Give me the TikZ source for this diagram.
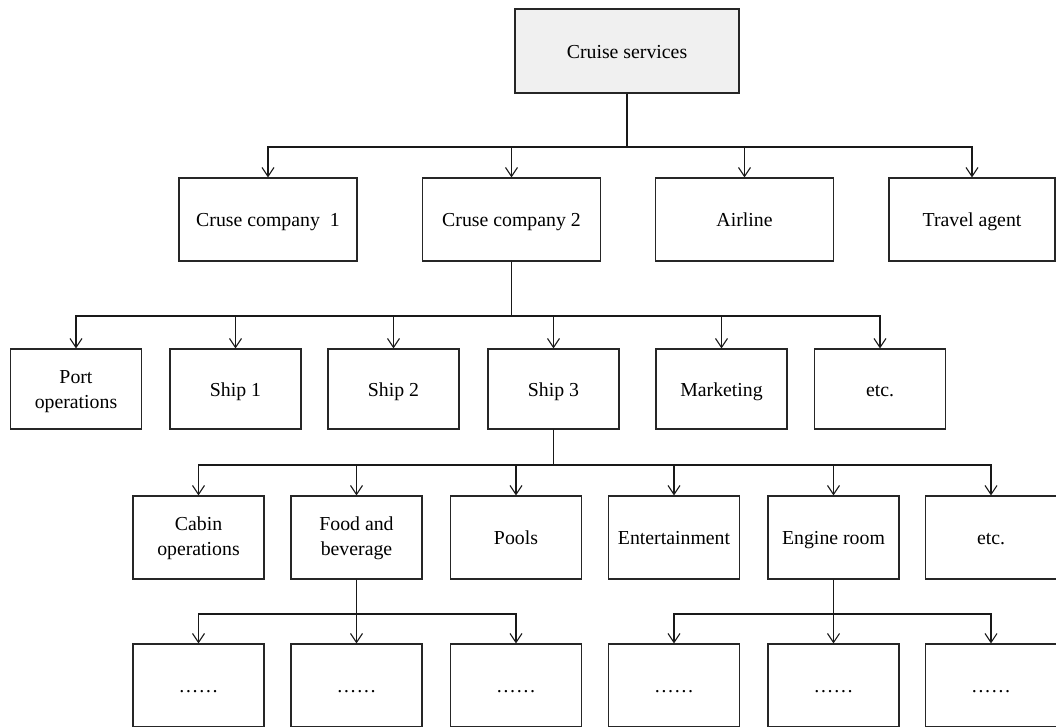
\documentclass[tikz,border=0pt]{standalone}
\usepackage{fontspec}
\setmainfont{Liberation Serif}
\usetikzlibrary{arrows.meta}
\begin{document}
\begin{tikzpicture}[x=1pt,y=-1pt,
  box/.style={draw=black!85,line width=1.1pt,rectangle,inner sep=0pt,align=center,
    font=\fontsize{19.8}{25}\selectfont,text height=15.8pt,text depth=1.8pt},
  two/.style={text height=#1,text depth=1.8pt},
  two/.default=40pt,
  topbox/.style={box,fill=black!6,minimum width=224pt,minimum height=84pt},
  lone/.style={box,minimum width=178pt,minimum height=83pt},
  ltwo/.style={box,minimum width=131pt,minimum height=80pt},
  lthree/.style={box,minimum width=131pt,minimum height=83pt},
  lfour/.style={box,minimum width=131pt,minimum height=83pt},
  conn/.style={line width=1.1pt,draw=black!90},
  arr/.style={conn,-{Straight Barb[length=9pt,width=12pt,line width=1.1pt]}}]
\useasboundingbox (0,0) rectangle (1056,726);
\clip (0,0) rectangle (1056,726);
% bus levels
\coordinate (b1) at (0,147);
\coordinate (b2) at (0,316);
\coordinate (b3) at (0,465);
\coordinate (b4) at (0,614);
% nodes
\node[topbox] (top) at (627,51) {Cruise services};
\node[lone] (c1) at (268,219.5) {Cruse company\ \ 1};
\node[lone] (c2) at (511.5,219.5) {Cruse company 2};
\node[lone] (air) at (744.5,219.5) {Airline};
\node[box,minimum width=166pt,minimum height=83pt] (ta) at (972,219.5) {Travel agent};
\node[ltwo,two] (po) at (76,389) {Port\\operations};
\node[ltwo] (s1) at (235.5,389) {Ship 1};
\node[ltwo] (s2) at (393.5,389) {Ship 2};
\node[ltwo] (s3) at (553.5,389) {Ship 3};
\node[ltwo] (mk) at (721.5,389) {Marketing};
\node[ltwo] (et1) at (880,389) {etc.};
\node[lthree,two=38.4pt] (cab) at (198.5,537.5) {Cabin\\operations};
\node[lthree,two=38.4pt] (fb) at (356.5,537.5) {Food and\\beverage};
\node[lthree] (pl) at (516,537.5) {Pools};
\node[lthree] (ent) at (674,537.5) {Entertainment};
\node[lthree] (eng) at (833.5,537.5) {Engine room};
\node[lthree] (et2) at (991,537.5) {etc.};
\node[lfour] (f1) at (198.5,685.5) {……};
\node[lfour] (f2) at (356.5,685.5) {……};
\node[lfour] (f3) at (516,685.5) {……};
\node[lfour] (e1) at (674,685.5) {……};
\node[lfour] (e2) at (833.5,685.5) {……};
\node[lfour] (e3) at (991,685.5) {……};
% connectors
\foreach \c in {c1,c2,air,ta}
  \draw[arr] (top.south) -- (top.south |- b1) -| (\c.north);
\foreach \c in {po,s1,s2,s3,mk,et1}
  \draw[arr] (c2.south) -- (c2.south |- b2) -| (\c.north);
\foreach \c in {cab,fb,pl,ent,eng,et2}
  \draw[arr] (s3.south) -- (s3.south |- b3) -| (\c.north);
\foreach \c in {f1,f2,f3}
  \draw[arr] (fb.south) -- (fb.south |- b4) -| (\c.north);
\foreach \c in {e1,e2,e3}
  \draw[arr] (eng.south) -- (eng.south |- b4) -| (\c.north);
\end{tikzpicture}
\end{document}
